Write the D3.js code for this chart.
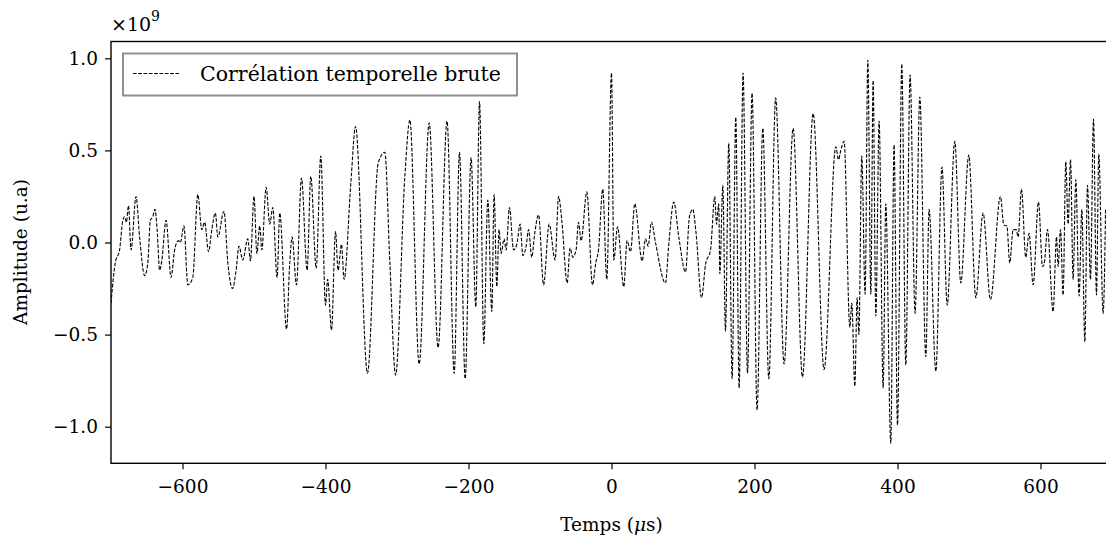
<!DOCTYPE html>
<html>
<head>
<meta charset="utf-8">
<script src="https://cdn.jsdelivr.net/npm/d3@7"></script>
<style>
  body { margin: 0; background: #fff; }
  text { font-family: "DejaVu Serif", serif; fill: #000; }
</style>
</head>
<body>
<svg id="chart" width="1106" height="537"></svg>
<script>
// time axis (µs) and raw correlation amplitude (x1e9)
var time = [-700, -694, -688, -683.5, -681, -678.5, -675.5, -672, -665, -660, -653, -648.5, -645, -641.5, -638.5, -635.5, -632, -629, -623, -616, -611, -605.6, -603, -598, -592.6, -585.6, -578.6, -573, -569, -563.6, -559, -554, -550.6, -542, -536.6, -530, -525, -521, -515.7, -508.7, -505, -500, -496, -492, -489, -483, -478, -473.7, -467.7,
  -464, -454.5, -450, -446.7, -440.6, -433.6, -425.7, -420.6, -413, -406.6, -400, -397, -391.6, -386, -382.4, -377.6, -374, -364.6, -358, -341.3, -326.4, -317, -310, -302, -289, -282, -269, -255, -242.5,
  -230, -220, -212.6, -204.7, -196.4, -189.8, -184.6, -178.6, -173, -167.4, -164.2, -160.4, -157.2, -154.4, -150.2, -147.4, -142.7, -137, -132.4, -127.8, -124, -119.4, -116, -111.5, -107.7, -102, -95, -87.2, -78.9, -74, -69.5, -62, -58, -54.1, -49.5, -46.2, -42.5, -34.5, -26.6, -22, -18.2, -12.2, -6.6, 0,
  3.2, 8.4, 17.2, 21.8, 26.6, 32.6, 42.8, 47.6, 51.2, 55.9, 61.5, 75.5, 80.1, 87.1, 94.1, 103.5, 109, 113.7, 118.3, 125.9, 131.5, 138.5, 144.5, 146.8, 150, 151.5, 155.7, 159.4, 164, 168.7, 173.8, 178.5, 184, 190.2, 196.6, 203.6, 211.6, 220, 229.6,
  241.4, 254, 267.1, 282, 297.3, 313.7, 317.5, 320.7, 325.3, 333.3, 336.1, 340.3, 343.5, 346, 350, 354.7, 358.5, 362.7, 365.9, 369.7, 374.3, 379.9, 383.6, 390.6, 395.2, 400, 406, 411.6, 417.6, 424.6, 431.2, 439.6, 444.2, 453.6, 462.2,
  469.5, 480.1, 488.5, 499.7, 509.5, 519.7, 530, 544, 548.7, 553, 557, 561.7, 566, 568.7, 573.4, 579.4, 584, 589.7, 597.2, 602.8, 605, 609.8, 617.6, 622.4, 624.6, 628, 631.6, 635.4, 638.6, 642, 645.6, 649.4, 654, 657.8, 662, 665.7, 669.9, 674.1, 678.3, 681.5, 687.6, 691];
var amplitude = [-0.33, -0.11, -0.04, 0.12, 0.14, 0.11, 0.20, -0.04, 0.25, 0.03, -0.18, -0.11, 0.12, 0.14, 0.18, 0.07, -0.15, -0.10, 0.12, -0.19, -0.04, 0.01, 0.00, 0.09, -0.23, -0.19, 0.26, 0.07, 0.11, -0.05, 0.07, 0.16, 0.03, 0.17, -0.11, -0.25, -0.15, -0.02, -0.095, 0.02, -0.10, 0.25, -0.06, 0.09, -0.04, 0.30, 0.10, 0.19, -0.19,
  0.16, -0.47, -0.11, 0.03, -0.23, 0.35, -0.15, 0.36, -0.14, 0.47, -0.34, -0.20, -0.475, 0.06, -0.15, -0.01, -0.20, 0.32, 0.63, -0.71, 0.43, 0.49, -0.11, -0.72, 0.36, 0.665, -0.66, 0.65, -0.57,
  0.66, -0.71, 0.49, -0.74, 0.46, -0.35, 0.765, -0.55, 0.23, -0.375, 0.26, -0.24, 0.07, -0.06, 0.02, -0.04, 0.19, -0.04, -0.01, 0.10, -0.07, -0.02, 0.07, -0.08, 0.04, 0.15, -0.23, 0.10, -0.095, 0.25, 0.12, -0.22, -0.03, -0.08, -0.04, 0.11, 0.01, 0.275, -0.23, -0.11, -0.04, 0.29, -0.20, 0.92,
  -0.095, 0.085, -0.24, 0.01, -0.05, 0.21, -0.10, 0.02, -0.02, 0.11, 0.00, -0.22, -0.01, 0.22, 0.03, -0.16, 0.14, 0.18, 0.05, -0.30, -0.12, -0.04, 0.25, 0.10, 0.21, -0.17, 0.31, -0.48, 0.54, -0.74, 0.68, -0.79, 0.92, -0.71, 0.81, -0.91, 0.62, -0.74, 0.785,
  -0.66, 0.62, -0.73, 0.70, -0.69, 0.52, 0.45, 0.50, 0.55, -0.46, -0.33, -0.78, -0.30, -0.50, 0.47, -0.28, 0.99, -0.28, 0.88, -0.40, 0.66, -0.79, 0.21, -1.09, 0.53, -0.99, 0.97, -0.665, 0.91, -0.385, 0.79, -0.62, 0.18, -0.70, 0.41,
  -0.34, 0.55, -0.22, 0.475, -0.30, 0.16, -0.31, 0.25, 0.095, 0.09, -0.11, 0.07, 0.07, 0.03, 0.29, -0.08, 0.05, -0.23, 0.22, -0.13, -0.12, 0.07, -0.375, 0.03, -0.13, 0.07, -0.285, 0.44, 0.10, 0.45, -0.20, 0.34, -0.29, 0.18, -0.54, 0.31, -0.20, 0.67, -0.285, 0.48, -0.385, 0.18];
var xTicks = [-600, -400, -200, 0, 200, 400, 600];
var yTicks = [-1.0, -0.5, 0.0, 0.5, 1.0];

var margin = {left: 111, top: 41.5};
var width = 1001, height = 421.8;

var svg = d3.select("#chart");
var g = svg.append("g")
    .attr("transform", "translate(" + margin.left + "," + margin.top + ")");

var x = d3.scaleLinear().domain([-700, 700]).range([0, width]);
var y = d3.scaleLinear().domain([-1.1987, 1.0912]).range([height, 0]);

g.append("clipPath").attr("id", "clip")
  .append("rect").attr("width", width).attr("height", height);

//axes
var xAxis = g.append("g")
    .attr("transform", "translate(0," + height + ")")
    .call(d3.axisBottom(x).tickValues(xTicks).tickSize(6).tickPadding(10)
        .tickFormat(function(d) { return d < 0 ? "\u2212" + (-d) : d; }));
var yAxis = g.append("g")
    .call(d3.axisLeft(y).tickValues(yTicks).tickSize(6).tickPadding(7)
        .tickFormat(function(d) { return d < 0 ? "\u2212" + d3.format(".1f")(-d) : d3.format(".1f")(d); }));
[xAxis, yAxis].forEach(function(a) {
    a.select(".domain").remove();
    a.selectAll("line").attr("stroke", "#000").attr("stroke-width", 1.2);
    a.selectAll("text").style("font-size", "18.5px").attr("fill", "#000");
});
xAxis.selectAll("text").attr("dy", "0.72em");

//the signal
var line = d3.line()
    .x(function(d, i) { return x(time[i]); })
    .y(function(d) { return y(d); })
    .curve(d3.curveMonotoneX);
g.append("path")
    .datum(amplitude)
    .attr("clip-path", "url(#clip)")
    .attr("fill", "none")
    .attr("stroke", "#000")
    .attr("stroke-width", 1.1)
    .attr("stroke-dasharray", "3.7,1.6")
    .attr("d", line);

//frame
g.append("rect")
    .attr("width", width).attr("height", height)
    .attr("fill", "none").attr("stroke", "#000").attr("stroke-width", 1.4);

//legend
var legend = g.append("g").attr("transform", "translate(12,12)");
legend.append("rect")
    .attr("width", 394).attr("height", 42)
    .attr("fill", "#fff").attr("stroke", "#8f8f8f").attr("stroke-width", 2);
legend.append("line")
    .attr("x1", 10).attr("x2", 57).attr("y1", 20).attr("y2", 20)
    .attr("stroke", "#000").attr("stroke-width", 1.1).attr("stroke-dasharray", "3.7,1.6");
legend.append("text")
    .attr("x", 77).attr("y", 27)
    .style("font-size", "20.5px")
    .text("Corrélation temporelle brute");

//labels
svg.append("text")
    .attr("transform", "translate(27,252) rotate(-90)")
    .attr("text-anchor", "middle")
    .style("font-size", "18.5px")
    .text("Amplitude (u.a)");
var xl = svg.append("text")
    .attr("x", 611.5).attr("y", 531)
    .attr("text-anchor", "middle")
    .style("font-size", "18.5px");
xl.append("tspan").text("Temps (");
xl.append("tspan").style("font-style", "italic").text("\u03bc");
xl.append("tspan").text("s)");

var ex = svg.append("text")
    .attr("x", 111).attr("y", 31)
    .style("font-size", "19px");
ex.append("tspan").text("\u00d710");
ex.append("tspan").attr("dy", -10).style("font-size", "14px").text("9");
</script>
</body>
</html>
